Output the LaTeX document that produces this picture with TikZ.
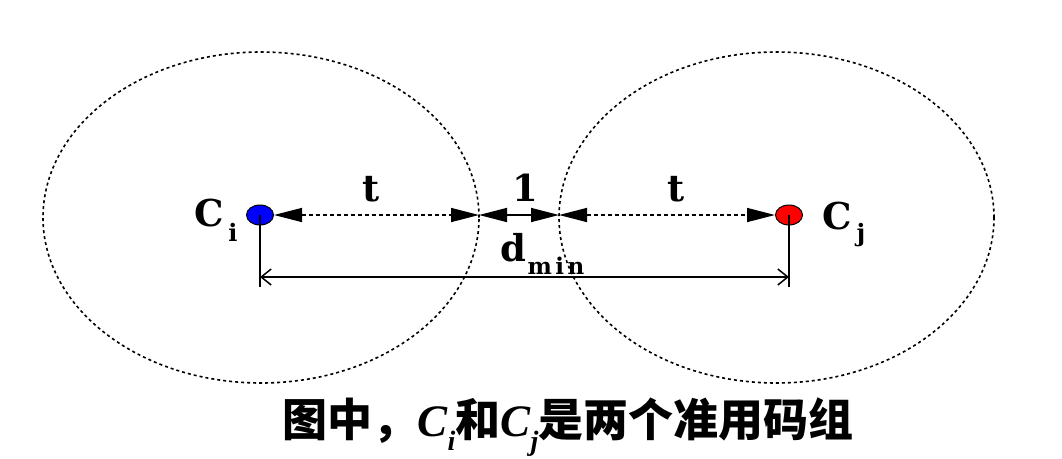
\documentclass[tikz,border=0pt]{standalone}
\usepackage{fontspec}
\usetikzlibrary{arrows.meta,shapes.geometric}
\newfontfamily\cjk{Noto Sans CJK SC}
\newfontfamily\lab{DejaVu Serif}
\newfontfamily\labsp{DejaVu Serif}[LetterSpace=15]
\newfontfamily\itf{Liberation Serif}
\tikzset{
  zone/.style={ellipse, draw, line width=1.6pt, dash pattern=on 3pt off 3pt, inner sep=0pt},
  dot/.style={ellipse, draw, line width=1pt, minimum width=27pt, minimum height=20pt, inner sep=0pt},
  tri/.style={{Triangle[length=28pt,width=14pt]}-{Triangle[length=28pt,width=14pt]}, line width=1.5pt},
  dashline/.style={dash pattern=on 4pt off 3pt},
  dim/.style={line width=1.5pt},
  big/.style={font=\lab\bfseries\fontsize{37}{37}\selectfont, inner sep=0pt},
  small/.style={font=\lab\bfseries\fontsize{24}{24}\selectfont, inner sep=0pt},
  smallsp/.style={font=\labsp\bfseries\fontsize{23}{23}\selectfont, inner sep=0pt},
}
\begin{document}
\begin{tikzpicture}[x=1pt,y=-1pt]
\useasboundingbox (0,0) rectangle (1062,458);
\fill[white] (0,0) rectangle (1062,458);
% zones
\node[zone, minimum width=436pt, minimum height=331pt] (zi) at (261,217.5) {};
\node[zone, minimum width=435pt, minimum height=331pt] (zj) at (776.5,217.5) {};
% crossing points
\coordinate (pa) at (479,215);
\coordinate (pb) at (559,215);
% code words
\node[dot, fill=blue] (ci) at (260,215) {};
\node[dot, fill=red] (cj) at (789,215) {};
% arrows
\draw[tri, dashline] (ci.east) -- (pa);
\draw[tri] (pa) -- (pb);
\draw[tri, dashline] (pb) -- (cj.west);
% dimension line
\coordinate (di) at (260,287);
\coordinate (dj) at (789,287);
\coordinate (hi) at (260,277);
\coordinate (hj) at (789,277);
\draw[dim] (ci.center) -- (di);
\draw[dim] (cj.center) -- (dj);
\draw[dim, {Straight Barb[length=10pt,width=16pt]}-{Straight Barb[length=10pt,width=16pt]}] (hi) -- (hj);
% labels
\node[big] (lt1) at (371,189) {t};
\node[big] (l1) at (525,188) {1};
\node[big] (lt2) at (676,189) {t};
\node[big] (lci) at (209,213) {C};
\node[small] (lsi) at (233,232) {i};
\node[big] (lcj) at (837,216) {C};
\node[small] (lsj) at (861,235) {j};
\node[big] (ld) at (513,248) {d};
\node[smallsp] (lmin) at (556,266) {min};
% caption
\node[inner sep=0pt, font=\cjk\bfseries\fontsize{45}{50}\selectfont] (cap) at (568,427)
  {图中，{\itf\itshape C}\raisebox{-0.3em}{\itf\itshape\fontsize{28}{28}\selectfont i}和{\itf\itshape C}\raisebox{-0.3em}{\itf\itshape\fontsize{28}{28}\selectfont j}是两个准用码组};
\end{tikzpicture}
\end{document}
